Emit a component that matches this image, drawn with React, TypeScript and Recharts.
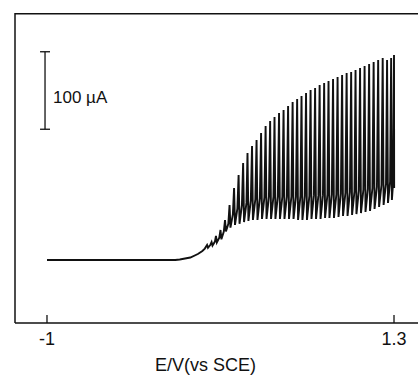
import React from 'react';
import { LineChart, Line, XAxis, YAxis, ReferenceLine } from 'recharts';

// Potential (V vs SCE) of each traced point (baseline, then per cycle: peak, trough, shoulder)
const potential = [
  -1.0, -0.5, -0.15, -0.12, -0.05, 0.0, 0.03, 0.046,
  0.061, 0.067, 0.083, 0.091, 0.097, 0.113, 0.12, 0.126, 0.142,
  0.15, 0.156, 0.172, 0.18, 0.186, 0.202, 0.21, 0.216, 0.232,
  0.24, 0.246, 0.262, 0.27, 0.276, 0.292, 0.3, 0.306, 0.322,
  0.329, 0.335, 0.351, 0.359, 0.365, 0.381, 0.389, 0.395, 0.411,
  0.419, 0.425, 0.441, 0.449, 0.455, 0.471, 0.479, 0.485, 0.501,
  0.508, 0.514, 0.53, 0.538, 0.544, 0.56, 0.568, 0.574, 0.59,
  0.598, 0.604, 0.62, 0.628, 0.634, 0.65, 0.658, 0.664, 0.68,
  0.687, 0.693, 0.709, 0.717, 0.723, 0.739, 0.747, 0.753, 0.769,
  0.777, 0.783, 0.799, 0.807, 0.813, 0.829, 0.837, 0.843, 0.859,
  0.866, 0.872, 0.888, 0.896, 0.902, 0.918, 0.926, 0.932, 0.948,
  0.956, 0.962, 0.978, 0.986, 0.992, 1.008, 1.016, 1.022, 1.038,
  1.045, 1.051, 1.067, 1.075, 1.081, 1.097, 1.105, 1.111, 1.127,
  1.135, 1.141, 1.157, 1.165, 1.171, 1.187, 1.195, 1.201, 1.217,
  1.225, 1.231, 1.247, 1.254, 1.26, 1.274, 1.281, 1.286, 1.295,
  1.3, 1.301,
];

// Current (µA) of each traced point
const current = [
  81.3, 81.3, 81.3, 82, 84.5, 89, 93, 96,
  100.6, 97, 101, 104.5, 100, 105, 112.3, 104, 110,
  120.0, 108, 118, 132.9, 118, 128, 152.3, 123, 140,
  174.2, 126.5, 148, 191.0, 128, 152, 206.4, 130.3, 155,
  219.4, 131.6, 158, 228.4, 132.9, 160, 236.1, 132.9, 161,
  245.2, 134.2, 162, 254.2, 134.2, 163, 260.6, 134.2, 163,
  265.8, 134.2, 163, 271.0, 134.2, 163, 274.8, 134.2, 163,
  280.0, 134.2, 163, 285.2, 134.2, 163, 289.0, 132.9, 164,
  292.9, 132.9, 164, 296.8, 132.9, 164, 300.6, 134.2, 165,
  303.2, 134.2, 165, 307.1, 134.2, 165, 309.7, 135.5, 166,
  312.3, 135.5, 166, 314.8, 135.5, 166, 317.4, 136.8, 167,
  320.0, 138.1, 168, 322.6, 138.1, 169, 323.9, 139.4, 170,
  326.5, 140.6, 171, 329.0, 141.9, 172, 331.6, 143.2, 173,
  334.2, 144.5, 174, 336.8, 147.1, 176, 339.4, 149.7, 178,
  341.9, 152.3, 180, 339.4, 154.8, 182, 341.9, 158.7, 184,
  345.8, 174.2,
];

const xTicks = [-1, 1.3];
const xTickLabels = ['-1', '1.3'];
const xDomain = [-1.212, 1.459];
const yDomain = [0, 400];
const frameTop = 399;

// Scale bar: 100 µA
const scaleBarX = -1.013;
const scaleBarRange = [250, 350];
const scaleBarSerif = [-1.046, -0.98];
const scaleBarText = '100 µA';
const axisTitle = 'E/V(vs SCE)';

const data = potential.map((e, i) => ({ E: e, I: current[i] }));

const FONT = '"Liberation Sans", Arial, sans-serif';
const INK = '#111';

const Tick = (props: any) => {
  const { x, y, payload } = props;
  const idx = xTicks.indexOf(payload.value);
  const label = idx >= 0 ? xTickLabels[idx] : String(payload.value);
  return (
    <g>
      <line x1={x} y1={y - 8} x2={x} y2={y} stroke={INK} strokeWidth={1.3} />
      <text x={x} y={y + 22} textAnchor="middle" fontSize={18} fontFamily={FONT} fill={INK}>
        {label}
      </text>
    </g>
  );
};

export default function App() {
  return (
    <div style={{ position: 'absolute', left: 0, top: 0, width: 418, height: 375, background: '#fff' }}>
      <LineChart width={418} height={375} data={data} margin={{ top: 13, right: 0, bottom: 0, left: 0 }}>
        <XAxis
          type="number"
          dataKey="E"
          domain={xDomain}
          ticks={xTicks}
          allowDataOverflow
          height={52}
          tickSize={0}
          tickMargin={0}
          tickLine={false}
          tick={<Tick />}
          axisLine={{ stroke: INK, strokeWidth: 1.5 }}
          interval={0}
          label={{ value: axisTitle, position: 'insideBottom', offset: 4, dx: -11, fontSize: 18, fill: INK, fontFamily: FONT }}
        />
        <YAxis
          type="number"
          domain={yDomain}
          allowDataOverflow
          width={15}
          tick={false}
          tickLine={false}
          axisLine={{ stroke: INK, strokeWidth: 1.5 }}
        />
        <ReferenceLine y={frameTop} stroke={INK} strokeWidth={1.5} ifOverflow="visible" />
        <ReferenceLine
          segment={[{ x: scaleBarX, y: scaleBarRange[0] }, { x: scaleBarX, y: scaleBarRange[1] }]}
          stroke={INK}
          strokeWidth={1.3}
          label={{ value: scaleBarText, position: 'right', offset: 8, dy: 6, fontSize: 17, fill: INK, fontFamily: FONT }}
        />
        <ReferenceLine
          segment={[{ x: scaleBarSerif[0], y: scaleBarRange[0] }, { x: scaleBarSerif[1], y: scaleBarRange[0] }]}
          stroke={INK}
          strokeWidth={1.3}
        />
        <ReferenceLine
          segment={[{ x: scaleBarSerif[0], y: scaleBarRange[1] }, { x: scaleBarSerif[1], y: scaleBarRange[1] }]}
          stroke={INK}
          strokeWidth={1.3}
        />
        <Line
          type="linear"
          dataKey="I"
          stroke={INK}
          strokeWidth={1.9}
          dot={false}
          isAnimationActive={false}
        />
      </LineChart>
    </div>
  );
}
